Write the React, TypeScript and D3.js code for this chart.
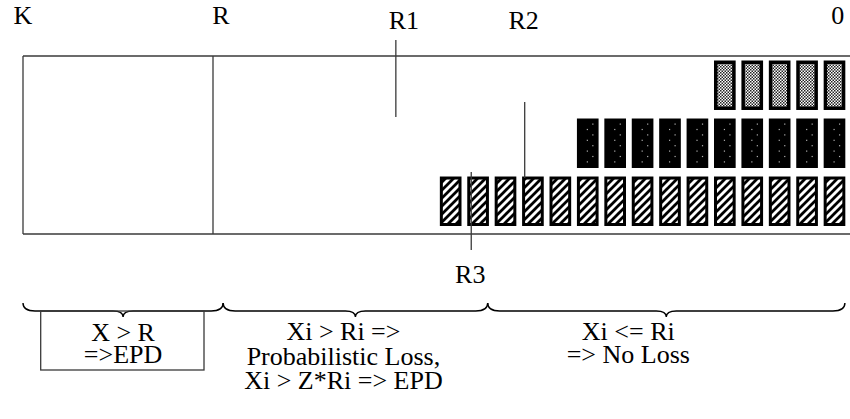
import * as d3 from "d3";
import React, { useEffect, useRef } from "react";

// buffer cells, counted from the head of the queue (0) towards K
const columnCount = 15;
const rowNames = ["R1", "R2", "R3"];
const rowCells = [5, 10, 15];
const rowPatterns = ["checker", "dotted", "hatch"];

// labels along the top, in buffer units
const axisLabels = ["K", "R", "0"];
const axisQ = [30.1, 23.2, 0];

// threshold markers
const markerLabels = ["R1", "R2", "R3"];
const markerQ = [16.5, 11.8, 13.75];

// regions under the buffer
const braceFrom = [30.1, 22.8, 13.15];
const braceTo = [22.8, 13.15, 0.12];
const regionText = [
    ["X > R", "=>EPD"],
    ["Xi > Ri =>", "Probabilistic Loss,", "Xi > Z*Ri => EPD"],
    ["Xi <= Ri", "=> No Loss"],
];

const W = 850;
const H = 419;
const FONT = '"Liberation Serif", "DejaVu Serif", "Times New Roman", serif';
const LINE = "#3a3a3a";

const App: React.FC = () => {
    const svgRef = useRef<SVGSVGElement>(null);

    useEffect(() => {
        if (!svgRef.current) return;
        const svg = d3.select(svgRef.current);
        svg.selectAll("*").remove();

        const x = d3.scaleLinear().domain([0, 30.1]).range([848.2, 23]);
        const col = d3
            .scaleBand<number>()
            .domain(d3.range(columnCount).reverse())
            .range([x(columnCount), x(0)])
            .paddingInner(0.21)
            .paddingOuter(0.105);
        const row = d3
            .scaleBand<string>()
            .domain(rowNames)
            .range([60.5, 226])
            .paddingInner(0.147)
            .paddingOuter(0);

        const defs = svg.append("defs");
        const hatch = defs
            .append("pattern")
            .attr("id", "hatch")
            .attr("patternUnits", "userSpaceOnUse")
            .attr("width", 8)
            .attr("height", 8);
        hatch.append("rect").attr("width", 8).attr("height", 8).attr("fill", "#fff");
        hatch
            .append("path")
            .attr("d", "M-2,2 L2,-2 M0,8 L8,0 M6,10 L10,6")
            .attr("stroke", "#000")
            .attr("stroke-width", 2.8);

        const checker = defs
            .append("pattern")
            .attr("id", "checker")
            .attr("patternUnits", "userSpaceOnUse")
            .attr("width", 3)
            .attr("height", 3);
        checker.append("rect").attr("width", 3).attr("height", 3).attr("fill", "#fff");
        checker.append("rect").attr("width", 1.5).attr("height", 1.5).attr("fill", "#222");
        checker
            .append("rect")
            .attr("x", 1.5)
            .attr("y", 1.5)
            .attr("width", 1.5)
            .attr("height", 1.5)
            .attr("fill", "#222");

        // buffer outline
        const g = svg.append("g").attr("fill", "none").attr("stroke", LINE).attr("stroke-width", 1.3);
        g.append("line").attr("x1", x(axisQ[0])).attr("x2", W).attr("y1", 56).attr("y2", 56);
        g.append("line").attr("x1", x(axisQ[0])).attr("x2", W).attr("y1", 234).attr("y2", 234);
        g.append("line").attr("x1", x(axisQ[0])).attr("x2", x(axisQ[0])).attr("y1", 56).attr("y2", 234);
        g.append("line").attr("x1", 213).attr("x2", 213).attr("y1", 56).attr("y2", 234);

        // cells
        rowNames.forEach((name, ri) => {
            const cells = d3.range(rowCells[ri]);
            const y0 = row(name) as number;
            const bh = row.bandwidth();
            const bw = col.bandwidth();
            const pattern = rowPatterns[ri];
            const grp = svg.append("g");
            cells.forEach((c) => {
                const x0 = col(c) as number;
                if (pattern === "hatch") {
                    grp.append("rect")
                        .attr("x", x0 + 1.5)
                        .attr("y", y0 + 1.5)
                        .attr("width", bw - 3)
                        .attr("height", bh - 3)
                        .attr("fill", "url(#hatch)")
                        .attr("stroke", "#000")
                        .attr("stroke-width", 3);
                } else if (pattern === "dotted") {
                    grp.append("rect")
                        .attr("x", x0)
                        .attr("y", y0)
                        .attr("width", bw)
                        .attr("height", bh)
                        .attr("fill", "#000");
                    d3.range(8).forEach((k) => {
                        grp.append("rect")
                            .attr("x", x0 + bw / 2 + (k % 2 === 0 ? 4.5 : -1))
                            .attr("y", y0 + 5 + k * 5.4)
                            .attr("width", 1.2)
                            .attr("height", 1.2)
                            .attr("fill", "#b0b0b0");
                    });
                } else {
                    grp.append("rect")
                        .attr("x", x0)
                        .attr("y", y0)
                        .attr("width", bw)
                        .attr("height", bh)
                        .attr("fill", "#000");
                    grp.append("rect")
                        .attr("x", x0 + 3.5)
                        .attr("y", y0 + 3.5)
                        .attr("width", bw - 7)
                        .attr("height", bh - 7)
                        .attr("fill", "url(#checker)");
                }
            });
        });

        const label = (t: string, px: number, py: number, anchor: string) =>
            svg.append("text")
                .attr("x", px)
                .attr("y", py)
                .attr("text-anchor", anchor)
                .style("font-family", FONT)
                .style("font-size", "26px")
                .attr("fill", "#000")
                .text(t);

        // top labels
        const anchors = ["middle", "start", "end"];
        axisLabels.forEach((lab, i) => {
            label(lab, i === 2 ? x(axisQ[i]) - 4 : x(axisQ[i]), 23.5, anchors[i]);
        });

        // threshold markers
        const markerSpan = [
            [40, 117],
            [102, 178],
            [172, 250],
        ];
        markerLabels.forEach((lab, i) => {
            const mx = x(markerQ[i]);
            svg.append("line")
                .attr("x1", mx)
                .attr("x2", mx)
                .attr("y1", markerSpan[i][0])
                .attr("y2", markerSpan[i][1])
                .attr("stroke", LINE)
                .attr("stroke-width", 1.3);
            label(lab, mx + (i === 0 ? 8 : -1), i === 2 ? 283 : 29, "middle");
        });

        // braces
        const by = 311;
        const brace = (a: number, b: number) => {
            const m = (a + b) / 2;
            return `M${a},${by - 8} Q${a},${by} ${a + 12},${by} L${m - 10},${by} Q${m},${by} ${m},${by + 6} Q${m},${by} ${m + 10},${by} L${b - 12},${by} Q${b},${by} ${b},${by - 8}`;
        };
        braceFrom.forEach((f, i) => {
            svg.append("path")
                .attr("d", brace(x(f), x(braceTo[i])))
                .attr("fill", "none")
                .attr("stroke", "#000")
                .attr("stroke-width", 1.4);
        });

        // EPD box
        svg.append("rect")
            .attr("x", 40.7)
            .attr("y", by)
            .attr("width", 163.3)
            .attr("height", 59)
            .attr("fill", "none")
            .attr("stroke", LINE)
            .attr("stroke-width", 1.3);

        const textDx = [0, -12, -38];
        const baselines = [
            [341, 363],
            [340, 365, 389],
            [340, 363],
        ];
        regionText.forEach((lines, i) => {
            const cx = (x(braceFrom[i]) + x(braceTo[i])) / 2 + textDx[i];
            lines.forEach((t, j) => label(t, cx, baselines[i][j], "middle"));
        });
    }, []);

    return (
        <svg
            ref={svgRef}
            width={W}
            height={H}
            style={{ position: "absolute", left: 0, top: 0, background: "#fff" }}
        />
    );
};

export default App;
